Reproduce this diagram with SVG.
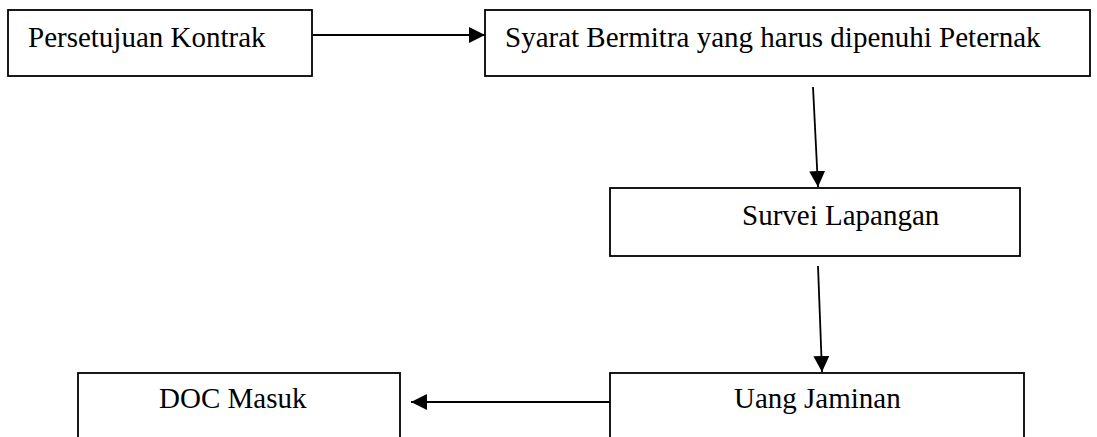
<svg xmlns="http://www.w3.org/2000/svg" width="1097" height="437" viewBox="0 0 1097 437">
<style>
.box{fill:#fff;stroke:#000;stroke-width:1.8}
.lbl{font-family:"Liberation Serif","Times New Roman",serif;font-size:29px;fill:#000}
.con{stroke:#000;stroke-width:1.8;fill:none}
</style>
<defs>
<marker id="ah" markerUnits="userSpaceOnUse" markerWidth="17" markerHeight="16" refX="16" refY="8" orient="auto">
<path d="M0,0 L16,8 L0,16 Z" fill="#000"/>
</marker>
</defs>
<rect width="1097" height="437" fill="#fff"/>
<g id="connectors">
<line class="con" x1="313" y1="35" x2="485" y2="35" marker-end="url(#ah)"/>
<line class="con" x1="813" y1="87" x2="818" y2="187" marker-end="url(#ah)"/>
<line class="con" x1="818" y1="266" x2="822" y2="372" marker-end="url(#ah)"/>
<line class="con" x1="610" y1="402" x2="411" y2="402" marker-end="url(#ah)"/>
</g>
<g id="node-persetujuan">
<rect class="box" x="8" y="10" width="304" height="66"/>
<text class="lbl" x="28" y="47">Persetujuan Kontrak</text>
</g>
<g id="node-syarat">
<rect class="box" x="485" y="10" width="605" height="66"/>
<text class="lbl" x="505" y="47">Syarat Bermitra yang harus dipenuhi Peternak</text>
</g>
<g id="node-survei">
<rect class="box" x="610" y="188" width="410" height="68"/>
<text class="lbl" x="742" y="225">Survei Lapangan</text>
</g>
<g id="node-doc">
<rect class="box" x="78" y="373" width="322" height="80"/>
<text class="lbl" x="159" y="408">DOC Masuk</text>
</g>
<g id="node-uang">
<rect class="box" x="610" y="373" width="414" height="80"/>
<text class="lbl" x="734" y="408">Uang Jaminan</text>
</g>
</svg>
